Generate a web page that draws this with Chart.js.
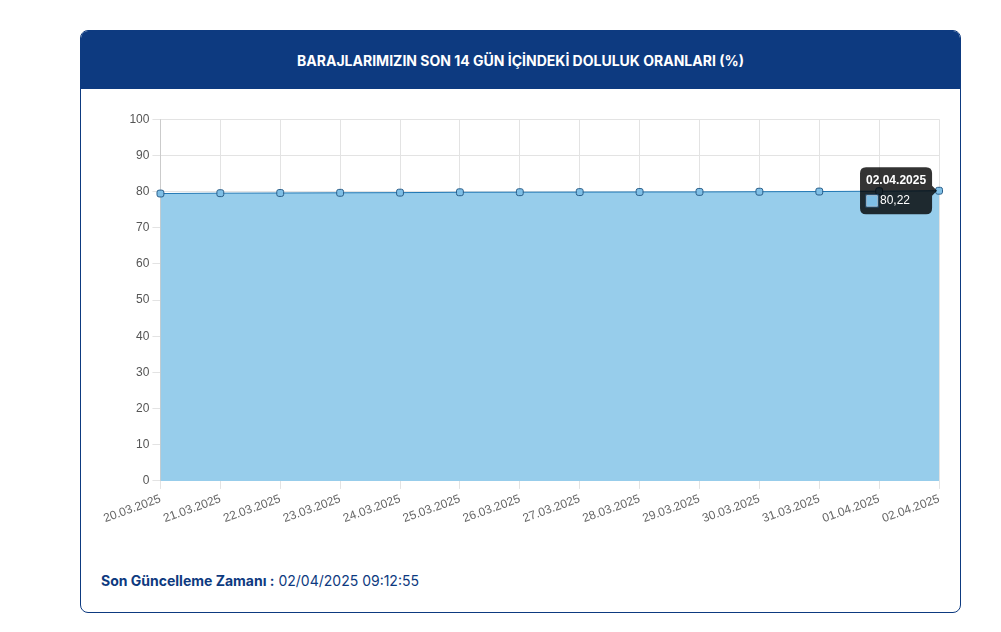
<!DOCTYPE html>
<html><head><meta charset="utf-8">
<script src="https://cdn.jsdelivr.net/npm/chart.js@4/dist/chart.umd.min.js"></script>
<style>
body{margin:0;background:#fff;font-family:"Open Sans",sans-serif;}
#card{position:absolute;left:80px;top:30px;width:881px;height:583px;border:1px solid #0d3a80;border-radius:8px;overflow:hidden;box-sizing:border-box;}
#hdr{height:58px;background:#0d3a80;color:#fff;font-weight:700;font-size:14px;text-align:center;line-height:60px;font-family:Inter,sans-serif;}
#wrap{position:absolute;left:20px;top:78px;width:846px;height:420px;}
#foot{position:absolute;left:20px;top:541px;font-size:14px;color:#0d3a80;font-family:Inter,sans-serif;}
</style></head><body>
<div id="card"><div id="hdr">BARAJLARIMIZIN SON 14 GÜN İÇİNDEKİ DOLULUK ORANLARI (%)</div>
<div id="wrap"><canvas id="c"></canvas></div>
<div id="foot"><b>Son Güncelleme Zamanı :</b> 02/04/2025 09:12:55</div></div>
<script>
const categories=["20.03.2025","21.03.2025","22.03.2025","23.03.2025","24.03.2025","25.03.2025","26.03.2025","27.03.2025","28.03.2025","29.03.2025","30.03.2025","31.03.2025","01.04.2025","02.04.2025"];
const values=[79.45,79.55,79.6,79.65,79.7,79.8,79.82,79.85,79.88,79.9,79.95,80.0,80.1,80.22];
const ch=new Chart(document.getElementById('c'),{type:'line',
data:{labels:categories,datasets:[{data:values,fill:true,backgroundColor:'rgba(151,205,235,1)',borderColor:'#1f77b4',borderWidth:1,
pointBackgroundColor:'#7fbfe6',pointBorderColor:'#2b5f8a',pointRadius:4,pointStyle:'rectRounded',tension:0}]},
options:{responsive:true,maintainAspectRatio:false,animation:false,
plugins:{legend:{display:false},tooltip:{callbacks:{label:c=>c.parsed.y.toFixed(2).replace('.',',')},titleFont:{size:12,weight:'bold'},bodyFont:{size:12}}},
scales:{y:{min:0,max:100,ticks:{stepSize:10,color:'#555',font:{size:12}},grid:{color:'#e3e3e3'}},
x:{ticks:{color:'#666',maxRotation:20,minRotation:20,font:{size:12}},grid:{color:'#e3e3e3'}}}}});
ch.tooltip.setActiveElements([{datasetIndex:0,index:13}],{x:0,y:0});ch.update();
</script></body></html>
